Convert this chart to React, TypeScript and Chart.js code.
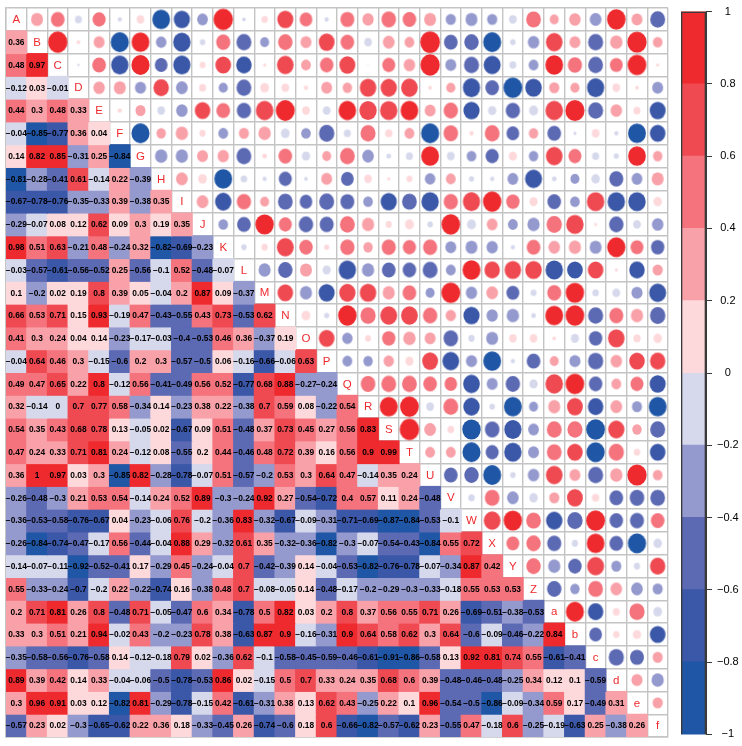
import React, { useEffect, useRef } from "react";
import { Chart, registerables } from "chart.js";

Chart.register(...registerables);

const names = ["A","B","C","D","E","F","G","H","I","J","K","L","M","N","O","P","Q","R","S","T","U","V","W","X","Y","Z","a","b","c","d","e","f"];

const rowA: number[] = [];
const rowB = [0.36];
const rowC = [0.48,0.97];
const rowD = [-0.12,0.03,-0.01];
const rowE = [0.44,0.3,0.48,0.33];
const rowF = [-0.04,-0.85,-0.77,0.36,0.04];
const rowG = [0.14,0.82,0.85,-0.31,0.25,-0.84];
const rowH = [-0.81,-0.28,-0.41,0.61,-0.14,0.22,-0.39];
const rowI = [-0.67,-0.78,-0.76,-0.35,-0.33,0.39,-0.38,0.35];
const rowJ = [-0.29,-0.07,0.08,0.12,0.62,0.09,0.3,0.19,0.35];
const rowK = [0.98,0.51,0.63,-0.21,0.48,-0.24,0.32,-0.82,-0.69,-0.23];
const rowL = [-0.03,-0.57,-0.61,-0.56,-0.52,0.25,-0.56,-0.1,0.52,-0.48,-0.07];
const rowM = [0.1,-0.201,0.02,0.19,0.799,0.39,0.05,-0.04,0.2,0.87,0.09,-0.37];
const rowN = [0.66,0.53,0.71,0.15,0.93,-0.19,0.47,-0.43,-0.55,0.43,0.73,-0.53,0.62];
const rowO = [0.41,0.3,0.24,0.04,0.14,-0.23,-0.17,-0.03,-0.401,-0.53,0.46,0.36,-0.37,0.19];
const rowP = [-0.04,0.64,0.46,0.3,-0.15,-0.6,0.2,0.3,-0.57,-0.5,0.06,-0.16,-0.66,-0.06,0.63];
const rowQ = [0.49,0.47,0.65,0.22,0.8,-0.12,0.56,-0.41,-0.49,0.56,0.52,-0.77,0.68,0.88,-0.27,-0.24];
const rowR = [0.32,-0.14,-0.001,0.7,0.77,0.58,-0.34,0.14,-0.23,0.38,0.22,-0.38,0.7,0.59,0.08,-0.22,0.54];
const rowS = [0.54,0.35,0.43,0.68,0.78,0.13,-0.05,0.02,-0.67,0.09,0.51,-0.48,0.37,0.73,0.45,0.27,0.56,0.83];
const rowT = [0.47,0.24,0.33,0.71,0.81,0.24,-0.12,0.08,-0.55,0.199,0.44,-0.46,0.48,0.72,0.39,0.16,0.56,0.9,0.99];
const rowU = [0.36,1,0.97,0.03,0.3,-0.85,0.82,-0.28,-0.78,-0.07,0.51,-0.57,-0.201,0.53,0.3,0.64,0.47,-0.14,0.35,0.24];
const rowV = [-0.26,-0.48,-0.3,0.21,0.53,0.54,-0.14,0.24,0.52,0.89,-0.3,-0.24,0.92,0.27,-0.54,-0.72,0.4,0.57,0.11,0.24,-0.48];
const rowW = [-0.36,-0.53,-0.58,-0.76,-0.67,0.04,-0.23,-0.06,0.76,-0.2,-0.36,0.83,-0.32,-0.67,-0.09,-0.31,-0.71,-0.69,-0.87,-0.84,-0.53,-0.1];
const rowX = [-0.26,-0.84,-0.74,-0.47,-0.17,0.56,-0.44,-0.04,0.88,0.29,-0.32,0.61,0.35,-0.32,-0.36,-0.82,-0.3,-0.07,-0.54,-0.43,-0.84,0.55,0.72];
const rowY = [-0.14,-0.07,-0.11,-0.92,-0.52,-0.41,0.17,-0.29,0.45,-0.24,-0.04,0.7,-0.42,-0.39,0.14,-0.04,-0.53,-0.82,-0.76,-0.78,-0.07,-0.34,0.87,0.42];
const rowZ = [0.55,-0.33,-0.24,-0.7,-0.2,0.22,-0.22,-0.74,0.16,-0.38,0.48,0.7,-0.08,-0.05,0.14,-0.48,-0.17,-0.201,-0.29,-0.3,-0.33,-0.18,0.55,0.53,0.53];
const rowLa = [0.2,0.71,0.81,0.26,0.799,-0.48,0.71,-0.05,-0.47,0.599,0.34,-0.78,0.5,0.82,0.03,0.2,0.799,0.37,0.56,0.55,0.71,0.26,-0.69,-0.51,-0.38,-0.53];
const rowLb = [0.33,0.3,0.51,0.21,0.94,-0.02,0.43,-0.201,-0.23,0.78,0.38,-0.63,0.87,0.9,-0.16,-0.31,0.9,0.64,0.58,0.62,0.3,0.64,-0.6,-0.09,-0.46,-0.22,0.84];
const rowLc = [-0.35,-0.58,-0.56,-0.76,-0.58,0.14,-0.12,-0.18,0.79,0.02,-0.36,0.62,-0.1,-0.58,-0.45,-0.59,-0.46,-0.61,-0.91,-0.86,-0.58,0.13,0.92,0.81,0.74,0.55,-0.61,-0.41];
const rowLd = [0.89,0.39,0.42,0.14,0.33,-0.04,-0.06,-0.5,-0.78,-0.53,0.86,0.02,-0.15,0.5,0.7,0.33,0.24,0.35,0.68,0.599,0.39,-0.48,-0.46,-0.48,-0.25,0.34,0.12,0.1,-0.59];
const rowLe = [0.3,0.96,0.91,0.03,0.12,-0.82,0.81,-0.29,-0.78,-0.15,0.42,-0.61,-0.31,0.38,0.13,0.62,0.43,-0.25,0.22,0.1,0.96,-0.54,-0.5,-0.86,-0.09,-0.34,0.59,0.17,-0.49,0.31];
const rowLf = [-0.57,0.23,0.02,-0.3,-0.65,-0.62,0.22,0.36,0.18,-0.33,-0.45,0.26,-0.74,-0.6,0.18,0.6,-0.66,-0.82,-0.57,-0.62,0.23,-0.55,0.47,-0.18,0.6,-0.25,-0.19,-0.63,0.25,-0.38,0.26];

const rows = [rowA,rowB,rowC,rowD,rowE,rowF,rowG,rowH,rowI,rowJ,rowK,rowL,rowM,rowN,rowO,rowP,rowQ,rowR,rowS,rowT,rowU,rowV,rowW,rowX,rowY,rowZ,rowLa,rowLb,rowLc,rowLd,rowLe,rowLf];

const bandTops = [-0.8,-0.6,-0.4,-0.2,0,0.2,0.4,0.6,0.8,1];
const bandColors = ["#1F56A6","#3A57A8","#5C69B3","#9499CE","#D6D8EC","#FDD9DC","#F9A1A8","#F4737C","#EF4A52","#EE2A2E"];
const GRID = "#C4C4C4";
const FONT = '"Liberation Sans", Arial, sans-serif';
const CELL_W = 20.75;
const CELL_H = 22.78;

function colorOf(v: number) {
  for (let i = 0; i < bandTops.length; i++) if (v < bandTops[i]) return bandColors[i];
  return bandColors[9];
}
function fmt(v: number) {
  const s = String(Number(v.toFixed(2)) + 0);
  return s.replace("-", "\u2212");
}
function ellipse(v: number) {
  const k = Math.sqrt(Math.abs(v));
  const rx = (CELL_W * 0.93 * k) / 2 + 0.2;
  const ry = (CELL_H * 0.93 * k) / 2 + 0.2;
  const c = document.createElement("canvas");
  c.width = Math.ceil(rx * 2) + 2;
  c.height = Math.ceil(ry * 2) + 2;
  const g = c.getContext("2d")!;
  g.fillStyle = colorOf(v);
  g.beginPath();
  g.ellipse(c.width / 2, c.height / 2, rx, ry, 0, 0, Math.PI * 2);
  g.fill();
  return c;
}

const cellText = {
  id: "cellText",
  afterDatasetsDraw(chart: any) {
    const { ctx, scales } = chart;
    ctx.save();
    ctx.textAlign = "center";
    ctx.textBaseline = "middle";
    rows.forEach((vals, r) => {
      const y = scales.y.getPixelForValue(r + 0.5);
      ctx.fillStyle = "#000";
      ctx.font = `bold 8.4px ${FONT}`;
      vals.forEach((v, c) => ctx.fillText(fmt(v), scales.x.getPixelForValue(c), y + 0.5));
      ctx.fillStyle = "#EE2A2E";
      ctx.font = `11.5px ${FONT}`;
      ctx.fillText(names[r], scales.x.getPixelForValue(r), y + 0.5);
    });
    ctx.restore();
  },
};

export default function App() {
  const mainRef = useRef<HTMLCanvasElement>(null);
  const barRef = useRef<HTMLCanvasElement>(null);

  useEffect(() => {
    const cellDatasets: any[] = rows.map((vals, r) => ({
      type: "bar",
      data: names.map((_, c) => (c < vals.length ? [r, r + 1] : null)),
      backgroundColor: names.map((_, c) => (c < vals.length ? colorOf(vals[c]) : "transparent")),
      borderWidth: 0,
      inflateAmount: 0.5,
      barPercentage: 1,
      categoryPercentage: 1,
      grouped: false,
      order: 2,
    }));
    const circlePoints: any[] = [];
    const circleStyles: any[] = [];
    rows.forEach((vals, r) =>
      vals.forEach((v, c) => {
        circlePoints.push({ x: names[r], y: c + 0.5 });
        circleStyles.push(ellipse(v));
      })
    );
    const main = new Chart(mainRef.current!, {
      type: "bar",
      data: {
        labels: names,
        datasets: [
          {
            type: "scatter",
            data: circlePoints,
            pointStyle: circleStyles,
            pointRadius: 5,
            order: 1,
          } as any,
          ...cellDatasets,
        ],
      },
      options: {
        responsive: false,
        animation: false,
        events: [],
        layout: { padding: { left: 4, top: 8, right: 7, bottom: 9 } },
        plugins: { legend: { display: false }, tooltip: { enabled: false } },
        scales: {
          x: {
            type: "category",
            offset: true,
            grid: { offset: true, color: GRID, lineWidth: 1.4, drawTicks: false },
            border: { color: GRID, width: 1.4 },
            ticks: { display: false, autoSkip: false },
          },
          y: {
            type: "linear",
            min: 0,
            max: 32,
            reverse: true,
            grid: { color: GRID, lineWidth: 1.4, drawTicks: false },
            border: { color: GRID, width: 1.4 },
            ticks: { display: false, stepSize: 1, autoSkip: false, maxTicksLimit: 40 },
          },
        },
      } as any,
      plugins: [cellText],
    });

    const bar = new Chart(barRef.current!, {
      type: "bar",
      data: {
        labels: ["scale"],
        datasets: [
          {
            data: [[-1, 1]],
            backgroundColor: "transparent",
            borderColor: "#3A3A3A",
            borderWidth: 1,
            barPercentage: 1,
            categoryPercentage: 1,
            grouped: false,
          } as any,
          ...bandColors.map((col, i) => ({
            data: [[i === 0 ? -1 : bandTops[i - 1], bandTops[i]]],
            backgroundColor: col,
            borderWidth: 0,
            barPercentage: 1,
            categoryPercentage: 1,
            grouped: false,
            inflateAmount: 0.5,
          })),
        ],
      },
      options: {
        responsive: false,
        animation: false,
        events: [],
        layout: { padding: { left: 6, top: 8, right: 0, bottom: 9 } },
        plugins: { legend: { display: false }, tooltip: { enabled: false } },
        scales: {
          x: { display: false },
          y: {
            position: "right",
            min: -1,
            max: 1,
            afterFit(s: any) {
              s.width = 36;
            },
            grid: { drawOnChartArea: false, color: "#3A3A3A", tickLength: 6, lineWidth: 1 },
            border: { color: "#3A3A3A", width: 1 },
            ticks: {
              stepSize: 0.2,
              padding: 5,
              crossAlign: "center",
              color: "#000",
              font: { family: FONT, size: 11 },
              callback: (v: any) => fmt(Number(v)),
            },
          },
        },
      } as any,
    });
    return () => {
      main.destroy();
      bar.destroy();
    };
  }, []);

  return (
    <div style={{ position: "fixed", left: 0, top: 0, width: 742, height: 746, background: "#fff" }}>
      <canvas ref={mainRef} width={675} height={746} style={{ position: "absolute", left: 0, top: 0 }} />
      <canvas ref={barRef} width={67} height={746} style={{ position: "absolute", left: 675, top: 0 }} />
    </div>
  );
}
